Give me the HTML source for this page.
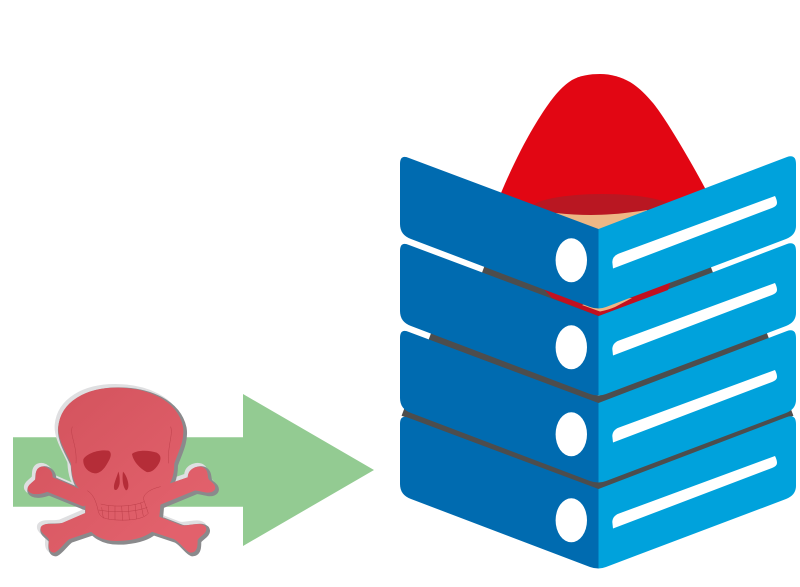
<!DOCTYPE html>
<html><head><meta charset="utf-8"><style>
html,body{margin:0;padding:0;background:#fff;width:800px;height:587px;overflow:hidden}
svg{display:block}
</style></head><body>
<svg width="800" height="587" viewBox="0 0 800 587" xmlns="http://www.w3.org/2000/svg">
<defs>
<linearGradient id="sk" gradientUnits="userSpaceOnUse" x1="150" y1="60" x2="520" y2="480"><stop offset="0" stop-color="#d3535d"/><stop offset="1" stop-color="#e2616c"/></linearGradient>
<filter id="b1" x="-10%" y="-10%" width="120%" height="120%"><feGaussianBlur stdDeviation="0.7"/></filter>
<path id="skshape" d="M350,60 C440,60 525,95 542,170 C549,210 525,250 516,280 C516,320 505,345 482,358 C472,385 476,420 468,458 C456,492 400,506 350,506 C310,506 269,488 264,450 C262,420 266,390 254,360 C229,345 222,320 220,280 C209,250 179,210 182,170 C189,100 260,60 350,60 Z
M252,370 L150,326 C155,306 135,292 122,298 C110,305 116,320 112,332 C102,342 88,350 90,358 C96,370 125,366 142,358 L250,402 Z
M480,358 L572,326 C565,306 590,292 606,298 C620,305 614,320 620,332 C630,342 642,348 638,356 C628,368 600,354 585,354 L478,398 Z
M262,434 L188,466 C165,472 138,464 129,474 C126,486 154,496 154,510 C152,525 152,541 162,541 C174,536 190,511 205,501 L285,474 Z
M468,444 L540,472 C560,479 596,461 611,474 C618,486 588,496 586,510 C586,525 586,541 572,541 C559,536 545,511 525,501 L450,476 Z"/>
<g id="layer">
<path d="M400,164 Q400,154 409,158 L598.5,229 L598.5,308.5 Q594,308.5 590,307 L411,239 Q400,235 400,224 Z" fill="#006bb0"/>
<path d="M598.5,229 L787,157 Q796,154 796,164 L796,226 Q796,235 786,239 L606,307 Q602,308.5 598.5,308.5 Z" fill="#00a2dc"/>
<ellipse cx="571.3" cy="260.3" rx="15.7" ry="22" fill="#fff"/>
<path d="M613,268.5 L612.3,262 Q612.5,256 619,253.5 L775,196 Q777,200 777,203 Q777,206 772,208 Z" fill="#fff"/>
</g>
</defs>

<!-- green arrow -->
<path d="M13,437.3 H243 V394 L374,470 L243,546 V506.7 H13 Z" fill="#93cb92"/>

<!-- skull and bones -->
<g transform="translate(0,370) scale(0.3333)">
<use href="#skshape" transform="translate(-5,-5)" fill="#dfdfe1" stroke="#dfdfe1" stroke-width="26" stroke-linejoin="round" filter="url(#b1)"/>
<use href="#skshape" transform="translate(5,5)" fill="#8a8a8c" stroke="#8a8a8c" stroke-width="26" stroke-linejoin="round" filter="url(#b1)"/>
<use href="#skshape" fill="url(#sk)" stroke="url(#sk)" stroke-width="14" stroke-linejoin="round"/>
<path d="M250,268 C262,248 300,238 325,242 C338,248 332,265 322,280 C312,298 300,310 285,310 C265,308 248,290 250,268 Z" fill="#b52d38"/>
<path d="M396,252 C410,240 445,240 470,248 C485,256 485,270 472,288 C462,302 450,308 440,306 C420,295 400,275 396,252 Z" fill="#b52d38"/>
<path d="M355,305 C350,325 338,345 343,358 C350,365 357,352 359,340 C360,325 358,312 355,305 Z M369,305 C366,325 368,350 378,361 C386,360 387,345 383,332 C380,320 374,310 369,305 Z" fill="#b52d38"/>
<g fill="none" stroke="#bd3f4a" stroke-width="1.5">
<path d="M217,170 C208,195 232,225 228,280"/>
<path d="M512,170 C520,195 502,225 506,280"/>
<path d="M262,362 C285,375 292,410 295,425 C300,440 310,448 350,450 C390,452 430,448 445,430 L430,385 C435,365 460,355 482,350"/>
<path d="M302,402 C340,412 400,410 432,395"/>
<path d="M305,412 L310,445 M325,407 L325,447 M345,408 L345,450 M365,408 L368,452 M385,406 L388,450 M405,402 L410,447 M422,398 L430,438 M296,420 C340,428 400,428 442,412"/>
</g>
</g>

<!-- red figure top -->
<path d="M501,193 C515,160 528,135 543,112 C553,97 561,87 572,80 C580,75.5 590,74 600,74 C611,74 621,77 630,82 C640,88 647,96 653,103 C666,119 690,160 706,190 L700,215 L598,235 L510,215 Z" fill="#e20613"/>
<ellipse cx="602" cy="208" rx="70" ry="14" fill="#b91722"/>
<path d="M556,213 C585,216 610,216 647,210 L648,215 L598.5,232 L556,216 Z" fill="#edb785"/>

<!-- stack -->
<path d="M403,412 L598.5,486 L792,412" fill="none" stroke="#4d4d4d" stroke-width="8"/>
<use href="#layer" transform="translate(0,260)"/>
<path d="M430,336 L598.5,400 L768,336" fill="none" stroke="#4d4d4d" stroke-width="8"/>
<use href="#layer" transform="translate(0,174)"/>
<path d="M483,270 L598.5,314 L712,270" fill="none" stroke="#4d4d4d" stroke-width="8"/>
<use href="#layer" transform="translate(0,87)"/>
<path d="M540,285 L598.5,300 L672,278 L668,290 L598.5,316 L552,298 Z" fill="#c2101f"/>
<path d="M582,305 L600,311.5 Q608,310 615,307 L632,298 L600,300 Z" fill="#edb785"/>
<use href="#layer"/>
</svg>
</body></html>
